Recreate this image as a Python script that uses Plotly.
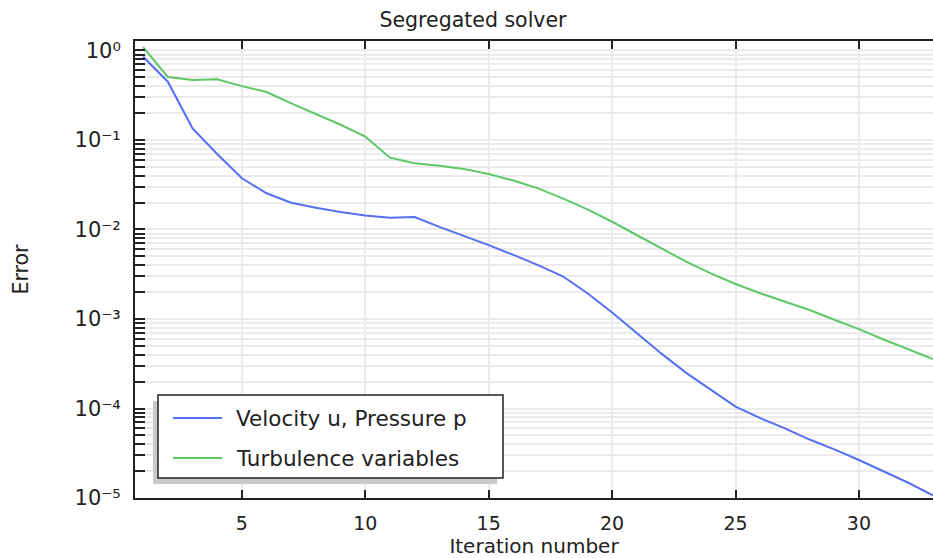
import plotly.graph_objects as go

# Convergence history of the segregated solver
iterations = list(range(1, 34))
velocity_pressure = [0.85, 0.448, 0.135, 0.0698, 0.0373, 0.0254, 0.0199, 0.0175, 0.0157,
                     0.0143, 0.0135, 0.0138, 0.0107, 0.0085, 0.0067, 0.0052, 0.0040, 0.0030,
                     0.00194, 0.00118, 0.00070, 0.00041, 0.00025, 0.000161, 0.000105,
                     7.8e-5, 6.0e-5, 4.5e-5, 3.5e-5, 2.66e-5, 1.99e-5, 1.48e-5, 1.07e-5]
turbulence = [1.09, 0.506, 0.468, 0.477, 0.40, 0.344, 0.257, 0.195, 0.148, 0.109, 0.0634,
              0.055, 0.0516, 0.0474, 0.0417, 0.0352, 0.0288, 0.0223, 0.0168, 0.0122, 0.0087,
              0.0062, 0.00437, 0.00324, 0.00246, 0.00194, 0.00156, 0.00126, 0.00098,
              0.00077, 0.00059, 0.00046, 0.000357]
series_names = ["Velocity u, Pressure p", "Turbulence variables"]
series_colors = ["#5470f4", "#5ec866"]
x_ticks = [5, 10, 15, 20, 25, 30]
decades = [-5, -4, -3, -2, -1, 0]

FONT = "DejaVu Sans"
TXT = "#222222"
W, H = 933, 558
L, R, T, B = 135, 0, 41, 60
PW, PH = W - L - R, H - T - B

SUP = str.maketrans("-0123456789", "⁻⁰¹²³⁴⁵⁶⁷⁸⁹")

# log-axis ticks: labelled decades plus unlabelled 2..9 multiples
y_major = [10.0 ** d for d in decades]
y_major_text = ["10" + str(d).translate(SUP) for d in decades]
y_minor = [m * 10.0 ** d for d in decades for m in range(2, 10) if m * 10.0 ** d <= 1.28]

fig = go.Figure()
for name, ys, col in zip(series_names, [velocity_pressure, turbulence], series_colors):
    fig.add_trace(go.Scatter(x=iterations, y=ys, mode="lines", name=name,
                             line=dict(color=col, width=2), showlegend=False))


def px(x):
    return (x - L) / PW


def py(y):
    return (H - B - y) / PH


# legend panel with drop shadow
shapes = [
    dict(type="rect", xref="paper", yref="paper", x0=px(153), x1=px(497), y0=py(484), y1=py(401),
         fillcolor="#c9c9c9", line=dict(width=0), layer="above"),
    dict(type="rect", xref="paper", yref="paper", x0=px(158), x1=px(503), y0=py(478), y1=py(395),
         fillcolor="white", line=dict(color="#222222", width=1.5), layer="above"),
]
annotations = []
for i, (name, col) in enumerate(zip(series_names, series_colors)):
    yy = 418 + 40 * i
    shapes.append(dict(type="line", xref="paper", yref="paper", x0=px(173), x1=px(222),
                       y0=py(yy), y1=py(yy), line=dict(color=col, width=2), layer="above"))
    annotations.append(dict(text=name, xref="paper", yref="paper", x=px(234), y=py(yy),
                            xanchor="left", yanchor="middle", showarrow=False,
                            font=dict(family=FONT, size=21.5, color=TXT)))

fig.update_layout(
    width=W, height=H,
    margin=dict(l=L, r=R, t=T, b=B, pad=0),
    paper_bgcolor="white", plot_bgcolor="white",
    font=dict(family=FONT, color=TXT),
    title=dict(text="Segregated solver", x=473 / W, xanchor="center",
               y=1 - 20 / H, yanchor="middle", yref="container",
               font=dict(family=FONT, size=20.5, color=TXT)),
    shapes=shapes, annotations=annotations,
    xaxis=dict(range=[0.67, 33], tickvals=x_ticks, ticks="inside", ticklen=8,
               tickwidth=1.5, tickcolor="#222", showline=True, linecolor="#222",
               linewidth=2, mirror="ticks", showgrid=True, gridcolor="#ebebeb",
               gridwidth=2, zeroline=False, ticklabelstandoff=7,
               tickfont=dict(family=FONT, size=19, color=TXT),
               title=dict(text="Iteration number", standoff=5,
                          font=dict(family=FONT, size=20, color=TXT))),
    yaxis=dict(type="log", range=[-5, 0.106], tickvals=y_major, ticktext=y_major_text,
               ticks="inside", ticklen=10, tickwidth=1.5, tickcolor="#222",
               showline=True, linecolor="#222", linewidth=2, mirror=False,
               showgrid=True, gridcolor="#ebebeb", gridwidth=2, zeroline=False,
               ticklabelstandoff=8,
               minor=dict(tickvals=y_minor, ticks="inside", ticklen=10, tickwidth=1.5,
                          tickcolor="#222", showgrid=True, gridcolor="#ebebeb", gridwidth=2),
               tickfont=dict(family=FONT, size=21, color=TXT),
               title=dict(text="Error", standoff=40,
                          font=dict(family=FONT, size=20.5, color=TXT))),
)

fig.write_html("out.html")
